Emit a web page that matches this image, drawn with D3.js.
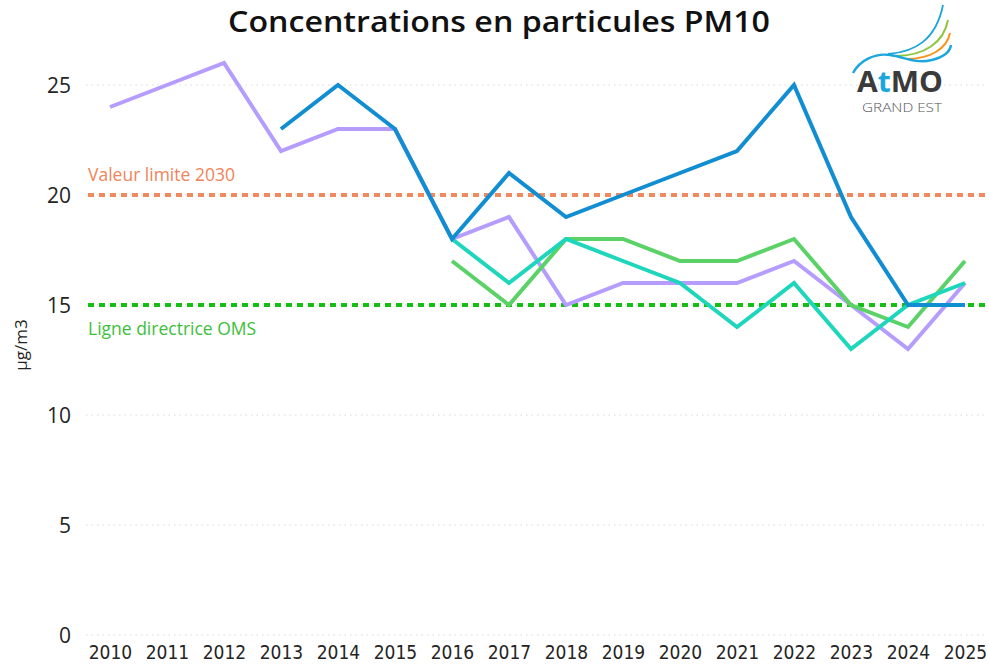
<!DOCTYPE html>
<html><head><meta charset="utf-8">
<script src="https://cdn.jsdelivr.net/npm/d3@7"></script>
<style>body{margin:0;background:#fff;} svg{display:block;}</style>
</head><body>
<svg id="c" width="989" height="665"></svg>
<script>
const years = [2010,2011,2012,2013,2014,2015,2016,2017,2018,2019,2020,2021,2022,2023,2024,2025];
const seriesPurple = [24,25,26,22,23,23,18,19,15,16,16,16,17,15,13,16];
const seriesBlue   = [null,null,null,23,25,23,18,21,19,20,21,22,25,19,15,15];
const seriesTeal   = [null,null,null,null,null,null,18,16,18,17,16,14,16,13,15,16];
const seriesGreen  = [null,null,null,null,null,null,17,15,18,18,17,17,18,15,14,17];
const yTicks = [0,5,10,15,20,25];
const refLines = [{value:20,label:"Valeur limite 2030",color:"#ee8a5f",text:"#f0845a"},
                  {value:15,label:"Ligne directrice OMS",color:"#14be14",text:"#3cc03c"}];
const seriesColors = {purple:"#b59cff",blue:"#118dd2",teal:"#1ed6bb",green:"#5ad267"};

const svg = d3.select("#c");
const x = d3.scalePoint().domain(years).range([110,965]);
const y = d3.scaleLinear().domain([0,25]).range([635,85]);

// title
svg.append("text").attr("x",499).attr("y",32).attr("text-anchor","middle")
  .attr("font-family","Open Sans, sans-serif").attr("font-weight",600).attr("font-size",29)
  .attr("textLength",542).attr("lengthAdjust","spacingAndGlyphs")
  .attr("fill","#111").text("Concentrations en particules PM10");

// grid
svg.append("g").selectAll("line").data(yTicks).join("line")
  .attr("x1",86).attr("x2",985).attr("y1",d=>y(d)).attr("y2",d=>y(d))
  .attr("stroke","#d9d9d9").attr("stroke-width",1.2).attr("stroke-dasharray","1.5,4");

// y axis labels
const yAxis = d3.axisLeft(y).tickValues(yTicks).tickSize(0).tickPadding(0);
const gy = svg.append("g").attr("transform","translate(71,0)").call(yAxis);
gy.select(".domain").remove();
gy.selectAll("text").attr("font-family","Open Sans, sans-serif").attr("font-size",21).attr("fill","#252423").attr("dy","0.35em");

// x axis labels
const xAxis = d3.axisBottom(x).tickSize(0).tickPadding(0).tickFormat(d3.format("d"));
const gx = svg.append("g").attr("transform","translate(0,645)").call(xAxis);
gx.select(".domain").remove();
gx.selectAll("text").attr("font-family","Liberation Sans Narrow, DejaVu Sans Condensed, sans-serif")
  .attr("font-stretch","condensed").attr("font-size",19).attr("fill","#252423").attr("dy","0.71em");

// y title
svg.append("text").attr("transform","translate(27,345) rotate(-90)").attr("text-anchor","middle")
  .attr("font-family","Open Sans, sans-serif").attr("font-size",17).attr("fill","#252423").text("µg/m3");

// reference lines
refLines.forEach(r=>{
  svg.append("line").attr("x1",88).attr("x2",985).attr("y1",y(r.value)).attr("y2",y(r.value))
    .attr("stroke",r.color).attr("stroke-width",4).attr("stroke-dasharray","6,5");
});
svg.append("text").attr("x",88).attr("y",y(20)-14).attr("font-family","Open Sans, sans-serif")
  .attr("font-size",17.5).attr("fill",refLines[0].text).text(refLines[0].label);
svg.append("text").attr("x",88).attr("y",y(15)+30).attr("font-family","Open Sans, sans-serif")
  .attr("font-size",17.5).attr("fill",refLines[1].text).text(refLines[1].label);

// series
const line = d3.line().defined(d=>d.v!=null).x(d=>x(d.yr)).y(d=>y(d.v));
const series = [
  {vals:seriesPurple,color:seriesColors.purple},
  {vals:seriesGreen,color:seriesColors.green},
  {vals:seriesTeal,color:seriesColors.teal},
  {vals:seriesBlue,color:seriesColors.blue}
];
series.forEach(s=>{
  svg.append("path").datum(years.map((yr,i)=>({yr,v:s.vals[i]})))
    .attr("d",line).attr("fill","none").attr("stroke",s.color).attr("stroke-width",4)
    .attr("stroke-linejoin","miter");
});

// logo
const lg = svg.append("g");
lg.append("path").attr("d","M888,54 C915,52 936,40 943,5").attr("fill","none").attr("stroke","#1ba7dc").attr("stroke-width",1.8);
lg.append("path").attr("d","M895,56 C925,56 944,42 948,20").attr("fill","none").attr("stroke","#8cc63f").attr("stroke-width",2);
lg.append("path").attr("d","M906,59 C930,59 947,49 950,33").attr("fill","none").attr("stroke","#f7941d").attr("stroke-width",2);
lg.append("path").attr("d","M853,73 C860,60 875,53 890,55 C905,57 915,64 932,60 C944,57 950,52 951,45").attr("fill","none").attr("stroke","#1ba7dc").attr("stroke-width",2.4);
const at = lg.append("text").attr("x",900).attr("y",92).attr("text-anchor","middle")
  .attr("font-family","Open Sans, sans-serif").attr("font-weight",700).attr("font-size",29)
  .attr("textLength",86).attr("lengthAdjust","spacingAndGlyphs").attr("fill","#3a3a3a");
at.append("tspan").text("A");
at.append("tspan").attr("fill","#1ba7dc").text("t");
at.append("tspan").text("MO");
lg.append("text").attr("x",902).attr("y",112).attr("text-anchor","middle")
  .attr("font-family","Open Sans, sans-serif").attr("font-size",12).attr("font-weight",300)
  .attr("textLength",80).attr("lengthAdjust","spacingAndGlyphs").attr("fill","#555").text("GRAND EST");
</script>
</body></html>
